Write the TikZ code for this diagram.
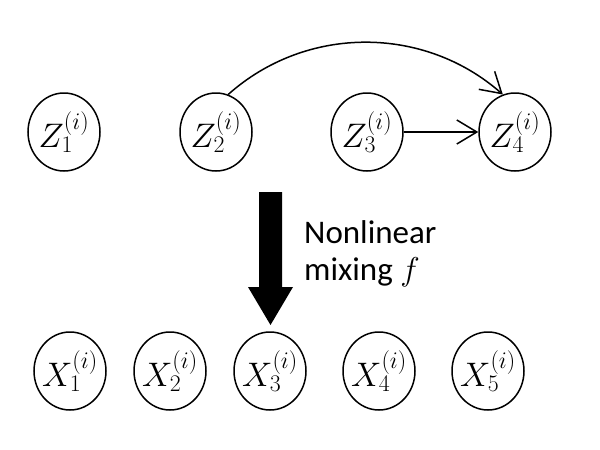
\RequirePackage{fix-cm}
\documentclass[tikz,border=0pt]{standalone}
\usepackage{fontspec}
\setmainfont{Carlito}
\usetikzlibrary{shapes.geometric,arrows.meta}
\begin{document}
\begin{tikzpicture}[x=1pt,y=-1pt,
  var/.style={draw,line width=1.5pt,ellipse,minimum width=72pt,minimum height=78pt,inner sep=-8pt,font=\fontsize{34}{38}\selectfont},
  link/.style={line width=1.5pt,-{Straight Barb[length=20pt,width=24pt,line width=1.5pt]}}]
\useasboundingbox (0,0) rectangle (600,450);
\node[var] (z1) at (64,132) {$Z_1^{(i)}$};
\node[var] (z2) at (216,132) {$Z_2^{(i)}$};
\node[var] (z3) at (367,132) {$Z_3^{(i)}$};
\node[var] (z4) at (515,132) {$Z_4^{(i)}$};
\node[var] (x1) at (70,371) {$X_1^{(i)}$};
\node[var] (x2) at (170,371) {$X_2^{(i)}$};
\node[var] (x3) at (270,371) {$X_3^{(i)}$};
\node[var] (x4) at (379,371) {$X_4^{(i)}$};
\node[var] (x5) at (488,371) {$X_5^{(i)}$};
\draw[link] (z3) -- (z4);
\draw[link] (z2.72) .. controls (306,25) and (424,25) .. (z4.108);
\fill (259,192) -- (282,192) -- (282,287) -- (293,287) -- (270.5,325) -- (248,287) -- (259,287) -- cycle;
\node[anchor=north west,inner sep=0pt,align=left,font=\fontsize{33}{37}\selectfont] (mix) at (304,220) {Nonlinear\\mixing $f$};
\end{tikzpicture}
\end{document}
